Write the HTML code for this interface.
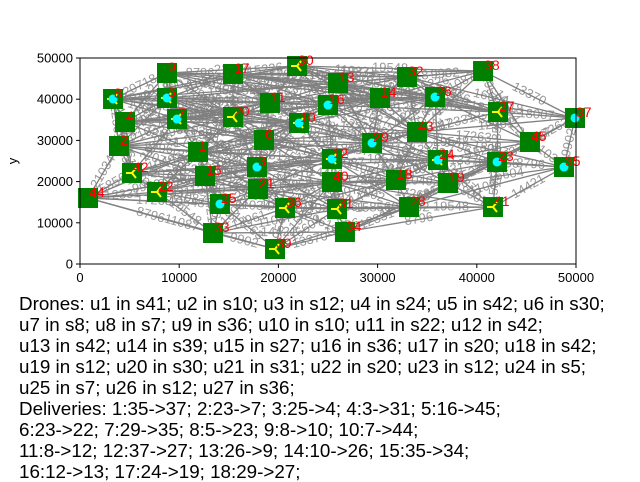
<!DOCTYPE html>
<html><head><meta charset="utf-8"><style>
body{margin:0;background:#fff;width:640px;height:480px;overflow:hidden;font-family:"Liberation Sans",sans-serif}
#cap{position:absolute;left:19px;top:293px;font-size:18.8px;line-height:21px;color:#000;white-space:pre}
</style></head><body>
<svg id="chart" width="640" height="290" style="position:absolute;left:0;top:0" font-family="Liberation Sans, sans-serif"></svg>
<div id="cap">Drones: u1 in s41; u2 in s10; u3 in s12; u4 in s24; u5 in s42; u6 in s30;
u7 in s8; u8 in s7; u9 in s36; u10 in s10; u11 in s22; u12 in s42;
u13 in s42; u14 in s39; u15 in s27; u16 in s36; u17 in s20; u18 in s42;
u19 in s12; u20 in s30; u21 in s31; u22 in s20; u23 in s12; u24 in s5;
u25 in s7; u26 in s12; u27 in s36;
Deliveries: 1:35-&gt;37; 2:23-&gt;7; 3:25-&gt;4; 4:3-&gt;31; 5:16-&gt;45;
6:23-&gt;22; 7:29-&gt;35; 8:5-&gt;23; 9:8-&gt;10; 10:7-&gt;44;
11:8-&gt;12; 12:37-&gt;27; 13:26-&gt;9; 14:10-&gt;26; 15:35-&gt;34;
16:12-&gt;13; 17:24-&gt;19; 18:29-&gt;27;</div>
<script>
const nodeIds=[1,2,3,4,5,6,7,8,9,10,11,12,13,14,15,16,17,18,19,20,21,22,23,24,25,26,27,28,29,30,31,32,33,34,35,36,37,38,39,40,41,42,43,44,45];
const nodeX=[11900,3930,17840,4540,8770,18550,9780,3330,8770,22080,19150,25400,26010,30240,12600,25000,15420,31850,37100,15420,17940,7760,42040,36090,14110,35790,42140,33170,29440,21880,25910,32960,13410,26710,48790,20670,49900,40630,19660,25400,41630,5240,33970,810,45360];
const nodeY=[27200,28640,23540,34470,40290,30100,35190,40050,46360,34220,39080,25490,43930,40290,21360,38590,46120,20390,19660,35680,18200,17480,24760,25240,14560,40530,36890,13830,29370,48060,13350,45390,7520,7770,23540,13590,35440,46840,3640,19900,13830,22090,32040,16020,29610];
const cyanNodes=[8,5,7,10,3,25,16,12,29,24,23,26,37,35];
const droneNodes=[41,10,12,24,42,30,8,7,36,22,39,27,20,31,5];
const edges=[[44,42],[44,22],[44,33],[44,2],[44,25],[44,15],[44,1],[44,39],[44,36],[42,2],[42,22],[42,1],[42,15],[42,4],[42,8],[42,3],[2,4],[2,8],[2,1],[2,7],[2,6],[2,20],[4,8],[4,5],[4,7],[4,20],[4,11],[8,5],[8,9],[8,7],[8,17],[8,11],[8,30],[9,5],[9,17],[9,30],[9,7],[9,13],[5,7],[5,17],[5,11],[5,20],[5,16],[7,20],[7,1],[7,6],[7,10],[17,30],[17,11],[17,13],[17,20],[17,32],[17,16],[30,13],[30,11],[30,32],[30,38],[30,16],[30,14],[20,11],[20,6],[20,10],[20,1],[20,3],[11,10],[11,16],[11,13],[11,6],[10,6],[10,16],[10,12],[10,29],[10,3],[10,43],[6,1],[6,3],[6,12],[6,29],[1,15],[1,3],[1,25],[1,22],[15,22],[15,25],[15,21],[15,3],[15,33],[22,25],[22,33],[22,21],[3,21],[3,12],[3,40],[3,36],[21,36],[21,25],[21,40],[21,31],[25,33],[25,36],[25,39],[33,39],[33,34],[33,31],[39,36],[39,34],[39,31],[36,31],[36,40],[36,28],[31,40],[31,34],[31,28],[34,28],[34,41],[40,12],[40,18],[40,28],[12,29],[12,18],[12,24],[12,16],[13,16],[13,14],[13,32],[13,26],[16,14],[16,29],[14,32],[14,26],[14,43],[14,29],[32,26],[32,38],[32,43],[38,26],[38,27],[38,37],[38,45],[26,43],[26,27],[26,24],[27,37],[27,45],[27,23],[27,43],[43,29],[43,24],[43,45],[43,18],[29,18],[29,24],[24,19],[24,23],[24,18],[18,19],[18,28],[19,28],[19,41],[19,23],[23,41],[23,45],[23,35],[45,35],[45,37],[35,37],[35,41],[37,23],[28,41],[41,24],[19,35],[16,26],[13,38],[9,20],[17,10],[6,16],[29,19],[3,29],[1,10],[11,14],[20,16],[7,3],[5,10],[12,43],[40,19],[21,12],[15,40],[22,3],[2,15],[4,1],[8,20],[14,38],[32,27],[26,45],[43,23],[29,23],[18,24],[28,23],[31,18],[34,19],
[8,13],[8,16],[8,10],[9,11],[9,16],[9,32],[9,14],[5,13],[5,14],[5,6],[4,10],[4,6],[4,16],[7,11],[7,16],[7,12],[2,10],[2,3],[2,12],[42,6],[42,21],[42,12],[22,1],[22,12],[22,40],[1,12],[1,29],[1,21],[15,12],[15,36],[3,18],[3,24],[3,31],[21,18],[21,28],[25,31],[25,40],[36,34],[36,18],[17,14],[17,26],[17,38],[30,26],[30,43],[13,43],[13,27],[13,29],[16,43],[16,24],[16,27],[11,29],[11,26],[11,32],[6,43],[6,24],[6,40],[10,24],[10,26],[10,14],[12,19],[12,23],[12,28],[29,26],[29,27],[29,45],[14,27],[32,37],[38,43],[26,37],[43,37],[43,35],[24,45],[24,35],[18,23],[19,45],[40,24],[40,41],[31,41],[34,23],[28,35],[20,29],[20,12],[20,14],[1,16],[15,6],[33,36],[33,21],[39,28],[39,40],[44,21],[44,3],[42,7],[2,5],[4,9],[8,4],[30,27],[17,27]];
const edgeLabels=["15856","12331","8796","21034","17263","9902","14421","11087","19548","13370","16604","10492","20718","12961","18007","15226"];
const svg=document.getElementById('chart');
const NS='http://www.w3.org/2000/svg';
const L=80,R=576,T=58,B=264;
const sx=v=>L+(v-0)/50000*(R-L);
const sy=v=>B-(v-0)/50000*(B-T);
function mk(t,a){const e=document.createElementNS(NS,t);for(const k in a)e.setAttribute(k,a[k]);svg.appendChild(e);return e;}
const idx=id=>nodeIds.indexOf(id);
edges.forEach(([a,b])=>{const i=idx(a),j=idx(b);
 const l=mk('line',{x1:sx(nodeX[i]),y1:sy(nodeY[i]),x2:sx(nodeX[j]),y2:sy(nodeY[j]),stroke:'#808080','stroke-width':1.3});
 
 });
edges.forEach(([a,b],k)=>{const i=idx(a),j=idx(b);
 const x1=sx(nodeX[i]),y1=sy(nodeY[i]),x2=sx(nodeX[j]),y2=sy(nodeY[j]);
 let ang=Math.atan2(y2-y1,x2-x1)*180/Math.PI;if(ang>90)ang-=180;if(ang<-90)ang+=180;
 const mx=(x1+x2)/2,my=(y1+y2)/2;
 const t=mk('text',{x:mx,y:my,'font-size':13,fill:'#808080','fill-opacity':0.8,'text-anchor':'middle','dominant-baseline':'middle',transform:`rotate(${ang} ${mx} ${my})`});
 t.textContent=edgeLabels[k%edgeLabels.length];
 
 });
nodeIds.forEach((id,i)=>{const x=sx(nodeX[i]),y=sy(nodeY[i]);
 const r=mk('rect',{x:x-10,y:y-10,width:20,height:20,fill:'#008000'});
 
 
 if(droneNodes.includes(id)){const g=mk('path',{d:`M${x} ${y}L${x+4} ${y-5}M${x} ${y}L${x+4} ${y+5}M${x} ${y}L${x-6} ${y}`,stroke:'#ffff00','stroke-width':2,fill:'none'});
  
  }
 if(cyanNodes.includes(id)){const c=mk('circle',{cx:x,cy:y,r:4.5,fill:'#00ffff'});
  
  }
 const t=mk('text',{x:x+1,y:y-1,'font-size':14,fill:'#ff0000'});t.textContent=id;
 
 });
const wb=mk('rect',{x:0,y:B+1,width:640,height:40,fill:'#fff'});


const fr=mk('rect',{x:L,y:T,width:R-L,height:B-T,fill:'none',stroke:'#000','stroke-width':1});


const xTicks=[0,10000,20000,30000,40000,50000];
const yTicks=[0,10000,20000,30000,40000,50000];
xTicks.forEach(v=>{const x=sx(v);const l=mk('line',{x1:x,x2:x,y1:B,y2:B+4,stroke:'#000'});
 
 
 const t=mk('text',{x:x,y:B+18,'font-size':13,'text-anchor':'middle'});t.textContent=v;
 
 });
yTicks.forEach(v=>{const y=sy(v);const l=mk('line',{x1:L-4,x2:L,y1:y,y2:y,stroke:'#000'});
 
 
 const t=mk('text',{x:L-7,y:y+4.5,'font-size':13,'text-anchor':'end'});t.textContent=v;
 
 });
const yl=mk('text',{x:17,y:161,'font-size':13,'text-anchor':'middle',transform:'rotate(-90 17 161)'});yl.textContent='y';


</script>
</body></html>
